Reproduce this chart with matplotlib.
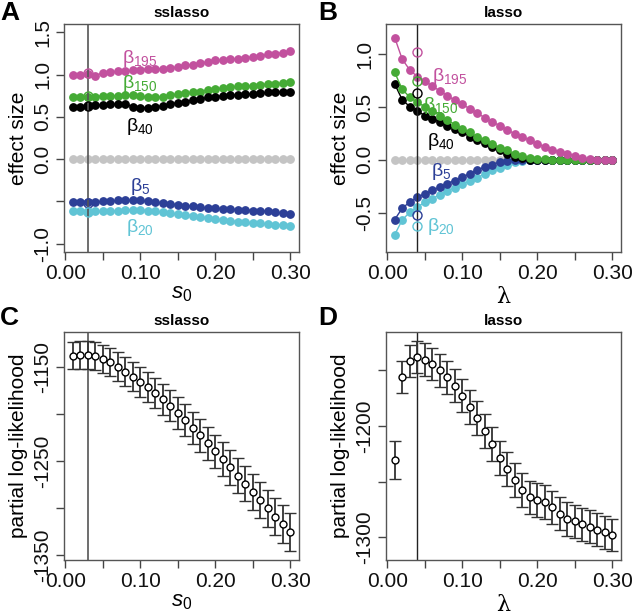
import matplotlib
matplotlib.use("Agg")
import matplotlib.pyplot as plt
import numpy as np

plt.rcParams['font.family'] = ['Liberation Sans', 'DejaVu Sans']
plt.rcParams['mathtext.fontset'] = 'custom'
plt.rcParams['mathtext.rm'] = 'Liberation Sans'
plt.rcParams['mathtext.it'] = 'Liberation Sans:italic'

# grid of tuning values
x = [round(0.01 * i, 2) for i in range(1, 31)]

# panel A: sslasso coefficient paths
ss_b195 = [1.00, 1.00, 1.01, 0.99, 1.02, 1.03, 1.04, 1.04, 1.05, 1.06, 1.07, 1.07, 1.07, 1.08, 1.09,
           1.11, 1.12, 1.14, 1.15, 1.17, 1.17, 1.18, 1.19, 1.20, 1.21, 1.22, 1.24, 1.25, 1.26, 1.28]
ss_b150 = [0.73, 0.73, 0.74, 0.74, 0.75, 0.75, 0.75, 0.76, 0.76, 0.75, 0.73, 0.73, 0.74, 0.76, 0.77,
           0.78, 0.79, 0.80, 0.82, 0.83, 0.84, 0.85, 0.86, 0.86, 0.87, 0.88, 0.89, 0.89, 0.90, 0.91]
ss_b40 = [0.62, 0.62, 0.63, 0.64, 0.64, 0.65, 0.65, 0.65, 0.62, 0.61, 0.61, 0.62, 0.63, 0.65, 0.67,
          0.68, 0.70, 0.71, 0.73, 0.74, 0.75, 0.76, 0.76, 0.77, 0.77, 0.78, 0.79, 0.79, 0.80, 0.80]
ss_b5 = [-0.51, -0.51, -0.51, -0.51, -0.50, -0.50, -0.49, -0.49, -0.49, -0.49, -0.50, -0.51, -0.52, -0.53, -0.54,
         -0.55, -0.56, -0.57, -0.58, -0.58, -0.59, -0.59, -0.60, -0.60, -0.61, -0.61, -0.62, -0.63, -0.64, -0.65]
ss_b20 = [-0.61, -0.61, -0.63, -0.62, -0.62, -0.62, -0.61, -0.60, -0.60, -0.60, -0.61, -0.62, -0.63, -0.64, -0.65,
          -0.66, -0.67, -0.68, -0.70, -0.71, -0.72, -0.73, -0.74, -0.75, -0.76, -0.76, -0.77, -0.78, -0.78, -0.79]

# panel B: lasso coefficient paths
la_b195 = [1.16, 0.955, 0.854, 0.79, 0.75, 0.70, 0.655, 0.61, 0.566, 0.528, 0.484, 0.443, 0.40, 0.358, 0.326,
           0.285, 0.247, 0.215, 0.187, 0.152, 0.123, 0.098, 0.073, 0.057, 0.04, 0.022, 0.006, 0.0, 0.0, 0.0]
la_b150 = [0.83, 0.67, 0.595, 0.545, 0.506, 0.465, 0.42, 0.377, 0.335, 0.297, 0.26, 0.22, 0.187, 0.152, 0.117,
           0.089, 0.06, 0.04, 0.022, 0.012, 0.006, 0.0, 0.0, 0.0, 0.0, 0.0, 0.0, 0.0, 0.0, 0.0]
la_b40 = [0.72, 0.57, 0.506, 0.465, 0.42, 0.39, 0.358, 0.323, 0.294, 0.263, 0.22, 0.19, 0.158, 0.12, 0.089,
          0.054, 0.025, 0.016, 0.003, 0.0, 0.0, 0.0, 0.0, 0.0, 0.0, 0.0, 0.0, 0.0, 0.0, 0.0]
la_b5 = [-0.566, -0.459, -0.40, -0.354, -0.323, -0.29, -0.26, -0.225, -0.196, -0.165, -0.13, -0.095, -0.07, -0.045, -0.02,
         -0.008, 0.0, 0.0, 0.0, 0.0, 0.0, 0.0, 0.0, 0.0, 0.0, 0.0, 0.0, 0.0, 0.0, 0.0]
la_b20 = [-0.71, -0.57, -0.497, -0.45, -0.40, -0.367, -0.33, -0.294, -0.263, -0.23, -0.20, -0.168, -0.133, -0.10, -0.073,
          -0.044, -0.022, -0.006, 0.0, 0.0, 0.0, 0.0, 0.0, 0.0, 0.0, 0.0, 0.0, 0.0, 0.0, 0.0]

# true effects shown as open circles at the chosen tuning value
true_b = [1.02, 0.75, 0.63, -0.52, -0.63]

# panel C/D: cross-validated partial log-likelihood
ss_pl = [-1137.6, -1136.9, -1136.9, -1138.0, -1140.8, -1144.7, -1149.3, -1154.6, -1159.9, -1165.6,
         -1171.3, -1177.3, -1184.0, -1191.1, -1198.6, -1206.0, -1214.2, -1222.3, -1230.9, -1239.4,
         -1247.9, -1256.4, -1265.2, -1273.8, -1282.6, -1291.1, -1300.0, -1308.9, -1317.0, -1325.5]
ss_se = [14.4, 14.5, 14.5, 14.6, 14.7, 14.9, 15.1, 15.3, 15.5, 15.7, 15.9, 16.1, 16.3, 16.5, 16.7,
         16.9, 17.1, 17.3, 17.6, 17.8, 18.1, 18.3, 18.6, 18.8, 19.1, 19.3, 19.6, 19.8, 20.1, 20.4]
la_pl = [-1230.6, -1155.9, -1141.6, -1138.0, -1140.4, -1144.3, -1150.0, -1156.3, -1163.8, -1172.8,
         -1182.9, -1193.1, -1204.2, -1216.2, -1228.4, -1238.9, -1248.5, -1257.5, -1264.1, -1266.5,
         -1268.3, -1273.1, -1278.7, -1283.5, -1285.6, -1288.3, -1290.7, -1293.1, -1295.5, -1297.9]
la_se = [16.9, 14.6, 14.4, 14.4, 14.5, 14.5, 14.6, 14.7, 14.8, 14.9, 15.0, 15.1, 15.2, 15.2, 15.2,
         15.2, 15.2, 15.1, 15.0, 15.0, 15.0, 14.9, 14.9, 14.9, 14.8, 14.8, 14.8, 14.8, 14.7, 14.7]

colors = ['#C2519E', '#45AB35', '#000000', '#2C3F97', '#60C4D5']
gray = '#C4C4C4'
sub = ['195', '150', '40', '5', '20']

W, H = 633, 616
fig = plt.figure(figsize=(W / 100, H / 100), dpi=100)


def add_ax(l, t, r, b):
    return fig.add_axes([l / W, 1 - b / H, (r - l) / W, (b - t) / H])


def style(ax, ylim, yticks, ylabels):
    ax.set_xlim(0.01 - 0.0116, 0.30 + 0.0116)
    ax.set_ylim(*ylim)
    ax.set_xticks([0.0, 0.05, 0.10, 0.15, 0.20, 0.25, 0.30])
    ax.set_xticklabels(['0.00', '', '0.10', '', '0.20', '', '0.30'])
    ax.set_yticks(yticks)
    ax.set_yticklabels(ylabels, rotation=90, va='center')
    ax.tick_params(direction='out', length=5.5, width=1, color='#444444',
                   labelsize=15, labelcolor='#111111', pad=3)
    for s in ax.spines.values():
        s.set_color('#555555')
        s.set_linewidth(1)


# ---- A: sslasso paths
axA = add_ax(64, 24, 299, 252)
paths_a = [ss_b195, ss_b150, ss_b40, ss_b5, ss_b20]
axA.plot(x, [0.0] * len(x), '-o', color=gray, ms=5.3, lw=1)
for p, c in zip(paths_a, colors):
    axA.plot(x, p, '-o', color=c, ms=5.3, lw=1)
axA.axvline(0.03, color='#555555', lw=1.2)
for v, c in zip(true_b, colors):
    axA.plot(0.03, v, 'o', mfc='none', mec=c, ms=6.5, mew=1)
lab_a = [(0.10, 1.19), (0.10, 0.89), (0.10, 0.39), (0.10, -0.32), (0.10, -0.81)]
for (lx, ly), c, s in zip(lab_a, colors, sub):
    axA.text(lx, ly, r'$\mathregular{β_{%s}}$' % s, color=c, fontsize=14, ha='center', va='center')
style(axA, (-1.1, 1.6), [-1.0, -0.5, 0.0, 0.5, 1.0, 1.5], ['-1.0', '', '0.0', '0.5', '1.0', '1.5'])
axA.set_ylabel('effect size', fontsize=15, labelpad=4)
axA.set_xlabel(r'$s_0$', fontsize=16, labelpad=0)
axA.set_title('sslasso', fontsize=11, fontweight='bold', pad=5)
fig.text(0 / W, 1 - 13 / H, 'A', fontsize=19, fontweight='bold', va='center')

# ---- B: lasso paths
axB = add_ax(386, 24, 621, 252)
paths_b = [la_b195, la_b150, la_b40, la_b5, la_b20]
axB.plot(x, [0.0] * len(x), '-o', color=gray, ms=5.3, lw=1)
for p, c in reversed(list(zip(paths_b, colors))):
    axB.plot(x, p, '-o', color=c, ms=5.3, lw=1)
axB.axvline(0.04, color='#222222', lw=1)
for v, c in zip(true_b, colors):
    axB.plot(0.04, v, 'o', mfc='none', mec=c, ms=6.5, mew=1)
lab_b = [(0.083, 0.79), (0.072, 0.52), (0.072, 0.17), (0.072, -0.11), (0.072, -0.63)]
for (lx, ly), c, s in zip(lab_b, colors, sub):
    axB.text(lx, ly, r'$\mathregular{β_{%s}}$' % s, color=c, fontsize=14, ha='center', va='center')
style(axB, (-0.874, 1.289), [-0.5, 0.0, 0.5, 1.0], ['-0.5', '0.0', '0.5', '1.0'])
axB.set_ylabel('effect size', fontsize=15, labelpad=4)
axB.set_xlabel('λ', fontsize=16, family='DejaVu Serif', labelpad=2)
axB.set_title('lasso', fontsize=11, fontweight='bold', pad=5)
fig.text(318 / W, 1 - 13 / H, 'B', fontsize=19, fontweight='bold', va='center')

# ---- C: sslasso cv
axC = add_ax(64, 332, 299, 560)
axC.axvline(0.03, color='#555555', lw=1.2)
axC.errorbar(x, ss_pl, yerr=ss_se, fmt='o', mfc='white', mec='black', ms=5, mew=1,
             ecolor='#333333', elinewidth=1.3, capsize=4, capthick=1.3)
style(axC, (-1355, -1112.4), [-1350, -1300, -1250, -1200, -1150], ['-1350', '', '-1250', '', '-1150'])
axC.set_ylabel('partial log-likelihood', fontsize=15, labelpad=4)
axC.set_xlabel(r'$s_0$', fontsize=16, labelpad=0)
axC.set_title('sslasso', fontsize=11, fontweight='bold', pad=5)
fig.text(0 / W, 1 - 318 / H, 'C', fontsize=19, fontweight='bold', va='center')

# ---- D: lasso cv
axD = add_ax(386, 332, 621, 560)
axD.axvline(0.04, color='#222222', lw=1)
axD.errorbar(x, la_pl, yerr=la_se, fmt='o', mfc='white', mec='black', ms=5, mew=1,
             ecolor='#333333', elinewidth=1.3, capsize=4, capthick=1.3)
style(axD, (-1320.4, -1115.6), [-1300, -1250, -1200, -1150], ['-1300', '', '-1200', ''])
axD.set_ylabel('partial log-likelihood', fontsize=15, labelpad=4)
axD.set_xlabel('λ', fontsize=16, family='DejaVu Serif', labelpad=2)
axD.set_title('lasso', fontsize=11, fontweight='bold', pad=5)
fig.text(318 / W, 1 - 318 / H, 'D', fontsize=19, fontweight='bold', va='center')

fig.savefig('out.png', dpi=100)
